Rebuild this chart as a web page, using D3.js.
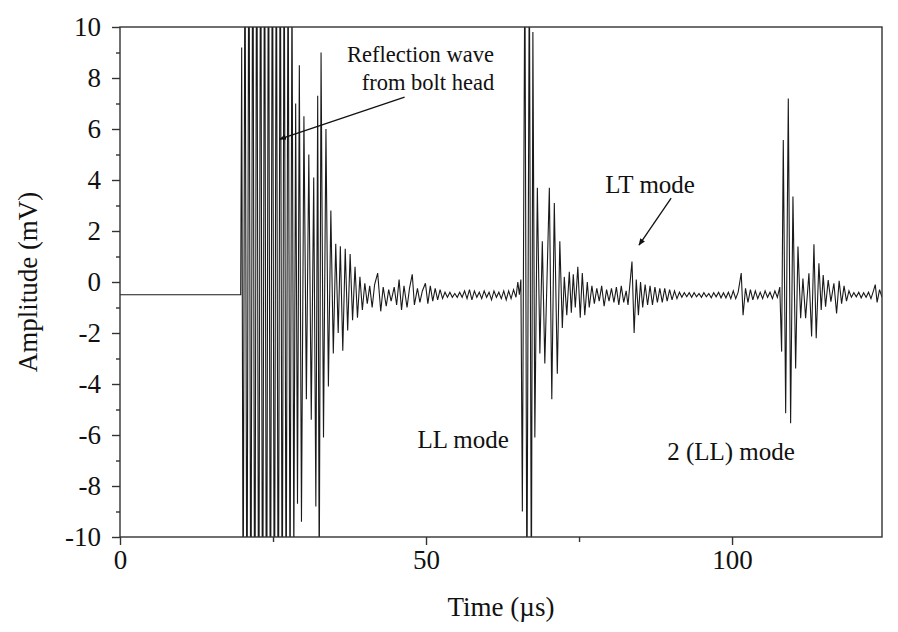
<!DOCTYPE html>
<html>
<head>
<meta charset="utf-8">
<script src="https://cdn.jsdelivr.net/npm/d3@7"></script>
<style>
  body { margin: 0; background: #fff; }
  svg { display: block; font-family: "Liberation Serif", "Times New Roman", serif; }
  .axis text { font-family: "Liberation Serif", "Times New Roman", serif; font-size: 27px; fill: #111; }
  .axis path, .axis line { stroke: #333; stroke-width: 1.4; }
  .title { font-size: 27px; fill: #111; }
  .note { font-size: 25px; fill: #111; }
  .note.small { font-size: 22.5px; }
</style>
</head>
<body>
<svg id="chart" width="898" height="632"></svg>
<script>
// waveform as [time (µs), amplitude (mV)] turning points
const quietStart = [[0, -0.5], [19.72, -0.5]];

const boltHeadEcho = [
  [19.88, 9.2], [20.12, -14], [20.42, 15], [20.74, -16], [21.06, 17], [21.38, -17],
  [21.7, 18], [22.02, -18], [22.34, 18], [22.66, -18], [22.98, 18], [23.3, -18],
  [23.62, 17], [23.94, -18], [24.26, 17], [24.58, -17], [24.9, 17], [25.22, -17],
  [25.54, 16], [25.86, -17], [26.18, 16], [26.5, -15], [26.82, 15], [27.14, -14],
  [27.46, 14], [27.78, -13], [28.1, 12], [28.4, -11], [28.7, 7.0], [29.0, -8.7],
  [29.3, 8.5], [29.65, -9.4], [30.05, 6.5], [30.45, -4.6], [30.85, 5.0], [31.25, -5.4],
  [31.65, 4.1], [32.0, -8.8], [32.3, 7.3], [32.55, -12], [32.85, 9.0], [33.25, -6.1],
  [33.65, 6.0], [34.05, -4.1], [34.45, 2.8], [34.85, -2.8], [35.25, 1.5], [35.65, -2.0],
  [36.0, 1.4], [36.4, -2.7], [36.8, 1.3], [37.2, -1.9], [37.6, 1.1], [38.0, -1.5],
  [38.4, 0.6], [38.8, -1.4], [39.2, 0.2], [39.6, -1.1], [40.0, -0.05], [40.4, -0.85],
  [40.8, -0.15], [41.2, -1.0], [41.6, -0.1], [42.1, 0.35], [42.6, -1.15], [43.0, -0.2],
  [43.5, -0.95], [43.9, -0.3], [44.3, -0.75], [44.8, -0.2], [45.2, -0.9], [45.6, 0.1],
  [46.0, -1.1], [46.4, -0.15], [46.9, -1.0], [47.3, -0.25], [47.75, 0.3], [48.1, -0.9],
  [48.6, -0.25], [49.0, -0.8], [49.4, -0.35], [49.9, -0.05], [50.3, -0.85], [50.7, -0.15],
  [51.1, -0.75], [51.5, -0.25], [51.9, -0.7], [52.3, -0.3], [52.7, -0.65], [53.1, -0.4],
  [53.5, -0.6], [53.9, -0.4], [54.3, -0.6], [54.7, -0.45], [55.1, -0.6], [55.5, -0.4],
  [55.9, -0.6], [56.3, -0.35], [56.7, -0.65], [57.1, -0.3], [57.5, -0.7], [57.9, -0.35],
  [58.3, -0.6], [58.7, -0.4], [59.1, -0.65], [59.5, -0.35], [59.9, -0.6], [60.3, -0.4],
  [60.7, -0.7], [61.1, -0.35], [61.5, -0.6], [61.9, -0.4], [62.3, -0.65], [62.7, -0.35],
  [63.1, -0.7], [63.5, -0.35], [63.9, -0.65], [64.3, -0.3], [64.7, -0.6], [65.0, 0.0]
];

const llEcho = [
  [65.25, -0.5], [65.5, 0.1], [65.74, -9.0], [66.15, 13], [66.48, -13], [66.88, 13],
  [67.21, -13], [67.46, 9.8], [67.78, -6.1], [68.19, 3.7], [68.6, -2.8], [69.0, 1.6],
  [69.41, -3.2], [70.15, 3.7], [70.55, -4.6], [70.96, 3.1], [71.45, -3.6], [71.86, 1.6],
  [72.27, -1.8], [72.59, 0.2], [73.0, -1.3], [73.41, 0.4], [73.74, -1.2], [74.06, 0.3],
  [74.39, -1.0], [74.8, 0.6], [75.2, -1.4], [75.53, 0.35], [75.94, -1.3], [76.35, 0.0],
  [76.67, -1.0]
];

const ltEcho = [
  [77.1, -0.15], [77.5, -0.85], [77.9, -0.25], [78.3, -0.75], [78.7, -0.15], [79.1, -0.95],
  [79.5, -0.3], [79.9, -0.75], [80.3, -0.25], [80.7, -0.8], [81.1, -0.2], [81.5, -0.9],
  [81.9, -0.15], [82.3, -0.8], [82.7, -0.35], [83.0, -0.9], [83.65, 0.8], [84.0, -2.0],
  [84.35, 0.1], [84.7, -1.3], [85.05, 0.0], [85.4, -1.0], [85.8, -0.1], [86.2, -0.9],
  [86.6, -0.15], [87.0, -0.9], [87.4, -0.2], [87.8, -0.8], [88.2, -0.25], [88.6, -0.8],
  [89.0, -0.25], [89.4, -0.75], [89.8, -0.3], [90.2, -0.7], [90.6, -0.35], [91.0, -0.65],
  [91.4, -0.4], [91.8, -0.6], [92.2, -0.42], [92.6, -0.58], [93.0, -0.42], [93.4, -0.6],
  [93.8, -0.42], [94.2, -0.58], [94.6, -0.45], [95.0, -0.6], [95.4, -0.42], [95.8, -0.58],
  [96.2, -0.45], [96.6, -0.62], [97.0, -0.42], [97.4, -0.58], [97.8, -0.4], [98.2, -0.62],
  [98.6, -0.42], [99.0, -0.62], [99.4, -0.4], [99.8, -0.65], [100.2, -0.35], [100.6, -0.65],
  [101.0, -0.4], [101.5, 0.35], [101.8, -1.3], [102.2, -0.25], [102.6, -0.8], [103.0, -0.3],
  [103.4, -0.7], [103.8, -0.35], [104.2, -0.65], [104.6, -0.4], [105.0, -0.65], [105.4, -0.35],
  [105.8, -0.6], [106.2, -0.4], [106.6, -0.65], [107.0, -0.35], [107.4, -0.6], [107.8, -0.2]
];

const ll2Echo = [
  [108.1, -2.73], [108.37, 5.57], [108.76, -5.15], [109.19, 7.2], [109.57, -5.54],
  [109.95, 3.35], [110.39, -3.39], [110.77, 1.39], [111.21, -1.42], [111.58, 0.14],
  [112.02, -1.42], [112.56, 0.34], [113.0, -2.14], [113.38, 1.48], [113.75, -2.21],
  [114.19, 0.73], [114.57, -1.1], [114.89, 0.27], [115.28, -0.97], [115.71, 0.08],
  [116.15, -0.77], [116.64, -0.05], [117.08, -1.23], [117.5, 0.05], [117.9, -0.85],
  [118.3, -0.15], [118.7, -0.75], [119.1, -0.35], [119.5, -0.6], [119.9, -0.42],
  [120.3, -0.58], [120.7, -0.4], [121.1, -0.62], [121.5, -0.42], [121.9, -0.6],
  [122.3, -0.4], [122.7, -0.65], [123.1, -0.35], [123.4, -0.1], [123.7, -0.8],
  [124.1, -0.3], [124.5, -0.6]
];

const xMajorTicks = [0, 50, 100];
const xMinorTicks = [25, 75];
const yMajorTicks = [-10, -8, -6, -4, -2, 0, 2, 4, 6, 8, 10];
const yMinorTicks = [-9, -7, -5, -3, -1, 1, 3, 5, 7, 9];

// labels: text, start time, amplitude at baseline
const noteLabels = [
  { text: "Reflection wave", t: 37.1, v: 8.63, size: "small" },
  { text: "from bolt head", t: 39.5, v: 7.53, size: "small" },
  { text: "LT mode", t: 79.3, v: 3.49 },
  { text: "LL mode", t: 48.6, v: -6.51 },
  { text: "2 (LL) mode", t: 89.4, v: -6.98 }
];
const noteArrows = [
  { from: [46.5, 7.25], to: [26.1, 5.6] },
  { from: [90.05, 3.29], to: [84.8, 1.45] }
];

const margin = { top: 27, right: 16, bottom: 95, left: 120 };
const width = 898;
const height = 632;

const svg = d3.select("#chart");

const x = d3.scaleLinear().domain([0, 124.5]).range([margin.left, width - margin.right]);
const y = d3.scaleLinear().domain([-10, 10]).range([height - margin.bottom, margin.top]);

svg.append("defs").append("clipPath").attr("id", "plot-clip")
  .append("rect")
  .attr("x", x(0)).attr("y", y(10))
  .attr("width", x(124.5) - x(0)).attr("height", y(-10) - y(10));

svg.select("defs").append("marker")
  .attr("id", "arrowhead")
  .attr("viewBox", "0 0 10 10")
  .attr("refX", 9).attr("refY", 5)
  .attr("markerWidth", 7).attr("markerHeight", 7)
  .attr("markerUnits", "userSpaceOnUse")
  .attr("orient", "auto")
  .append("path")
  .attr("d", "M0,1 L10,5 L0,9 z")
  .attr("fill", "#111");

const signal = [].concat(quietStart, boltHeadEcho, llEcho, ltEcho, ll2Echo);

const line = d3.line().x((d) => x(d[0])).y((d) => y(d[1]));

svg.append("path")
  .datum(signal)
  .attr("clip-path", "url(#plot-clip)")
  .attr("d", line)
  .attr("fill", "none")
  .attr("stroke", "#1a1a1a")
  .attr("stroke-width", 1.1);

// frame
svg.append("rect")
  .attr("x", x(0)).attr("y", y(10))
  .attr("width", x(124.5) - x(0)).attr("height", y(-10) - y(10))
  .attr("fill", "none")
  .attr("stroke", "#333")
  .attr("stroke-width", 1.4);

const fmt = (d) => String(d);

svg.append("g")
  .attr("class", "axis")
  .attr("transform", `translate(0,${y(-10)})`)
  .call(d3.axisBottom(x).tickValues(xMajorTicks).tickSize(8).tickPadding(5).tickFormat(fmt))
  .call((g) => g.select(".domain").remove());

svg.append("g")
  .attr("class", "axis")
  .attr("transform", `translate(0,${y(-10)})`)
  .call(d3.axisBottom(x).tickValues(xMinorTicks).tickSize(5).tickFormat(""))
  .call((g) => g.select(".domain").remove());

svg.append("g")
  .attr("class", "axis")
  .attr("transform", `translate(${x(0)},0)`)
  .call(d3.axisLeft(y).tickValues(yMajorTicks).tickSize(8).tickPadding(11).tickFormat(fmt))
  .call((g) => g.select(".domain").remove());

svg.append("g")
  .attr("class", "axis")
  .attr("transform", `translate(${x(0)},0)`)
  .call(d3.axisLeft(y).tickValues(yMinorTicks).tickSize(4).tickFormat(""))
  .call((g) => g.select(".domain").remove());

svg.append("text")
  .attr("class", "title")
  .attr("x", (x(0) + x(124.5)) / 2)
  .attr("y", 616)
  .attr("text-anchor", "middle")
  .text("Time (µs)");

svg.append("text")
  .attr("class", "title")
  .attr("transform", `translate(37,${(y(10) + y(-10)) / 2}) rotate(-90)`)
  .attr("text-anchor", "middle")
  .text("Amplitude (mV)");

svg.selectAll(".note")
  .data(noteLabels)
  .enter()
  .append("text")
  .attr("class", (d) => (d.size ? `note ${d.size}` : "note"))
  .attr("x", (d) => x(d.t))
  .attr("y", (d) => y(d.v))
  .text((d) => d.text);

svg.selectAll(".note-arrow")
  .data(noteArrows)
  .enter()
  .append("line")
  .attr("class", "note-arrow")
  .attr("x1", (d) => x(d.from[0]))
  .attr("y1", (d) => y(d.from[1]))
  .attr("x2", (d) => x(d.to[0]))
  .attr("y2", (d) => y(d.to[1]))
  .attr("stroke", "#111")
  .attr("stroke-width", 1.3)
  .attr("marker-end", "url(#arrowhead)");
</script>
</body>
</html>
